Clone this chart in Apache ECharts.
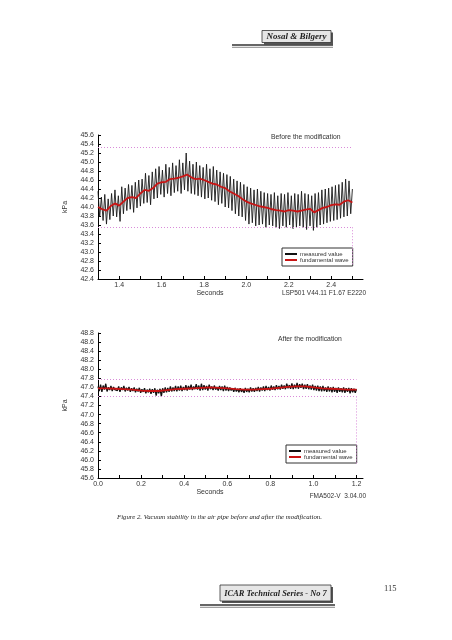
<!DOCTYPE html>
<html>
<head>
<meta charset="utf-8">
<script src="https://cdn.jsdelivr.net/npm/echarts@6/dist/echarts.min.js"></script>
<style>
html,body{margin:0;padding:0;background:#fff;}
#chart{width:452px;height:640px;}
</style>
</head>
<body>
<div id="chart"></div>
<script>
// ---------- DATA ----------
// Top chart ("Before the modification"): sampling start / step in seconds
const topT0 = 1.3, topDt = 0.008;
const topMeasured = [
44.35,43.78,44.22,43.70,44.28,43.62,44.18,43.72,44.30,43.80,
44.38,43.78,44.25,43.68,44.45,43.85,44.42,43.92,44.50,43.95,
44.48,43.88,44.55,43.98,44.60,44.02,44.62,44.08,44.75,44.10,
44.70,44.05,44.78,44.18,44.85,44.20,44.90,44.28,44.82,44.22,
44.95,44.30,44.88,44.25,44.98,44.32,44.92,44.35,45.05,44.30,
44.98,44.38,45.20,44.35,45.02,44.30,44.95,44.28,45.00,44.25,
44.92,44.22,44.88,44.18,44.95,44.20,44.85,44.15,44.90,44.12,
44.82,44.05,44.78,44.08,44.75,44.00,44.72,43.98,44.68,43.92,
44.62,43.85,44.58,43.80,44.55,43.78,44.50,43.70,44.45,43.62,
44.42,43.65,44.38,43.58,44.40,43.60,44.35,43.62,44.32,43.55,
44.30,43.60,44.28,43.58,44.32,43.55,44.25,43.52,44.30,43.58,
44.28,43.55,44.32,43.60,44.25,43.52,44.30,43.55,44.28,43.58,
44.35,43.55,44.30,43.50,44.28,43.58,44.25,43.48,44.30,43.55,
44.32,43.60,44.38,43.62,44.40,43.65,44.42,43.68,44.45,43.70,
44.48,43.72,44.50,43.75,44.55,43.78,44.62,43.80,44.58,43.85,
44.40
];
const topFundT0 = 1.3, topFundDt = 0.02;
const topFundamental = [
44.00,43.95,43.92,44.02,44.08,44.03,44.12,44.20,44.22,44.20,
44.30,44.38,44.36,44.42,44.52,44.55,44.56,44.62,44.63,44.65,
44.68,44.72,44.66,44.62,44.63,44.60,44.56,44.52,44.50,44.45,
44.42,44.35,44.30,44.25,44.18,44.12,44.08,44.05,44.02,44.00,
43.98,43.95,43.93,43.92,43.90,43.93,43.92,43.90,43.92,43.94,
43.96,43.88,43.93,43.98,44.00,44.04,44.06,44.05,44.12,44.15,
44.10
];
const topBand = [45.33, 43.55];          // dotted limit lines (kPa)
const topBandEnd = 2.5;                   // right end of limit lines (s)
const topVert = [[45.66, 45.33], [43.55, 42.70]];
const topXLabels = [1.4, 1.6, 1.8, 2.0, 2.2, 2.4];
const topXTicks = [1.4,1.5,1.6,1.7,1.8,1.9,2.0,2.1,2.2,2.3,2.4,2.5];

// Bottom chart ("After the modification")
const botT0 = 0.0, botDt = 0.006;
const botMeasured = [
47.62,47.52,47.66,47.50,47.64,47.55,47.68,47.51,47.60,47.54,47.63,47.52,47.61,47.55,47.59,47.53,47.62,47.50,47.60,47.54,47.63,
47.51,47.59,47.53,47.61,47.50,47.58,47.52,47.60,47.49,47.57,47.51,47.59,47.48,47.56,47.50,47.58,47.47,47.55,47.49,47.57,
47.46,47.56,47.48,47.58,47.42,47.55,47.47,47.57,47.40,47.58,47.48,47.60,47.49,47.59,47.50,47.62,47.51,47.60,47.52,47.63,
47.51,47.62,47.53,47.64,47.52,47.61,47.54,47.65,47.53,47.63,47.55,47.66,47.54,47.62,47.56,47.67,47.55,47.64,47.53,47.68,
47.54,47.65,47.55,47.63,47.53,47.66,47.56,47.62,47.54,47.64,47.55,47.61,47.53,47.63,47.54,47.62,47.52,47.64,47.53,47.61,
47.52,47.60,47.53,47.58,47.50,47.59,47.51,47.57,47.49,47.58,47.50,47.56,47.48,47.59,47.50,47.57,47.49,47.60,47.51,47.58,
47.50,47.59,47.52,47.61,47.51,47.60,47.53,47.62,47.52,47.63,47.54,47.61,47.53,47.64,47.55,47.62,47.54,47.65,47.56,47.63,
47.55,47.66,47.57,47.64,47.56,47.68,47.58,47.65,47.57,47.69,47.56,47.66,47.58,47.70,47.57,47.67,47.59,47.68,47.56,47.66,
47.57,47.67,47.56,47.64,47.55,47.66,47.54,47.63,47.53,47.64,47.52,47.62,47.51,47.63,47.52,47.60,47.50,47.62,47.51,47.60,
47.49,47.61,47.50,47.59,47.48,47.60,47.50,47.58,47.49,47.60,47.48,47.58,47.50,47.59,47.47,47.58,47.49,47.57,47.48,47.56
];
const botFundT0 = 0.0, botFundDt = 0.04;
const botFundamental = [
47.58,47.58,47.57,47.56,47.55,47.53,47.52,47.52,47.54,47.56,
47.57,47.58,47.59,47.60,47.59,47.58,47.56,47.55,47.55,47.56,
47.57,47.59,47.61,47.62,47.62,47.60,47.58,47.57,47.56,47.55,
47.55
];
const botBand = [47.78, 47.40];
const botBandEnd = 1.2;
const botVert = [[48.90, 47.78], [47.40, 45.90]];
const botXLabels = [0.0, 0.2, 0.4, 0.6, 0.8, 1.0, 1.2];
const botXTicks = [0.0,0.1,0.2,0.3,0.4,0.5,0.6,0.7,0.8,0.9,1.0,1.1,1.2];

const seriesNames = ['measured value', 'fundamental wave'];

// ---------- BUILD ----------
function pairs(t0, dt, arr) { return arr.map((v, i) => [+(t0 + i * dt).toFixed(4), v]); }

const FONT = '"Liberation Sans", Arial, sans-serif';
const SERIF = '"Liberation Serif", "Times New Roman", serif';
const dotStyle = { color: '#d98ad9', type: [1, 2], width: 1 };

function bandLines(t0, tEnd, band, vert) {
  const d = band.map(y => [{ coord: [t0, y] }, { coord: [tEnd, y] }]);
  vert.forEach(v => d.push([{ coord: [tEnd, v[0]] }, { coord: [tEnd, v[1]] }]));
  return d;
}

function xAxis(idx, min, max, labels, ticks) {
  return {
    type: 'value', gridIndex: idx, min: min, max: max,
    name: 'Seconds', nameLocation: 'middle', nameGap: 11,
    nameTextStyle: { fontFamily: FONT, fontSize: 7, color: '#333', padding: [0, 41, 0, 0] },
    axisLine: { show: true, lineStyle: { color: '#000', width: 1 } },
    axisTick: { show: true, inside: true, length: 3, customValues: ticks, lineStyle: { color: '#000' } },
    axisLabel: { show: true, customValues: labels, margin: 3, fontFamily: FONT, fontSize: 7, color: '#333',
      formatter: v => v.toFixed(1) },
    splitLine: { show: false }
  };
}
function yAxis(idx, min, max) {
  return {
    type: 'value', gridIndex: idx, min: min, max: max, interval: 0.2,
    name: 'kPa', nameLocation: 'middle', nameGap: 29, nameRotate: 90,
    nameTextStyle: { fontFamily: FONT, fontSize: 7, color: '#333' },
    axisLine: { show: true, lineStyle: { color: '#000', width: 1 } },
    axisTick: { show: true, inside: true, length: 3, lineStyle: { color: '#000' } },
    axisLabel: { margin: 4, fontFamily: FONT, fontSize: 7, color: '#333', formatter: v => v.toFixed(1) },
    splitLine: { show: false }
  };
}
function legend(left, top) {
  return {
    left: left, top: top, orient: 'vertical', icon: 'rect', itemWidth: 12, itemHeight: 2,
    itemGap: 0, padding: [3, 4, 3, 3], borderColor: '#333', borderWidth: 1, backgroundColor: '#fff',
    selectedMode: false, data: seriesNames,
    textStyle: { fontFamily: FONT, fontSize: 6, color: '#333', padding: [0, 0, 0, -2] }
  };
}
function txt(x, y, s, size, align, extra) {
  return { type: 'text', x: x, y: y, silent: true, style: Object.assign({
    text: s, fontFamily: FONT, fontSize: size, fill: '#333', align: align || 'left', verticalAlign: 'middle' }, extra || {}) };
}

const option = {
  animation: false,
  backgroundColor: '#fff',
  grid: [
    { left: 98, top: 135, width: 265, height: 144 },
    { left: 98, top: 333, width: 265, height: 145 }
  ],
  xAxis: [ xAxis(0, 1.3, 2.55, topXLabels, topXTicks), xAxis(1, 0, 1.23, botXLabels, botXTicks) ],
  yAxis: [ yAxis(0, 42.4, 45.6), yAxis(1, 45.6, 48.8) ],
  legend: [ legend(282, 248), legend(286, 445) ],
  series: [
    { name: seriesNames[0], type: 'line', xAxisIndex: 0, yAxisIndex: 0, data: pairs(topT0, topDt, topMeasured),
      showSymbol: false, symbol: 'none', color: '#111', lineStyle: { color: '#1a1a1a', width: 0.9 }, z: 2 },
    { name: seriesNames[1], type: 'line', xAxisIndex: 0, yAxisIndex: 0, data: pairs(topFundT0, topFundDt, topFundamental),
      showSymbol: false, symbol: 'none', color: '#c81414', lineStyle: { color: '#c81414', width: 1.8 }, z: 3, clip: false,
      markLine: { silent: true, symbol: ['none', 'none'], label: { show: false }, lineStyle: dotStyle,
        data: bandLines(topT0, topBandEnd, topBand, topVert) } },
    { name: seriesNames[0], type: 'line', xAxisIndex: 1, yAxisIndex: 1, data: pairs(botT0, botDt, botMeasured),
      showSymbol: false, symbol: 'none', color: '#111', lineStyle: { color: '#111', width: 1.3 }, z: 2 },
    { name: seriesNames[1], type: 'line', xAxisIndex: 1, yAxisIndex: 1, data: pairs(botFundT0, botFundDt, botFundamental),
      showSymbol: false, symbol: 'none', color: '#c81414', lineStyle: { color: '#c81414', width: 1.8 }, z: 3, clip: false,
      markLine: { silent: true, symbol: ['none', 'none'], label: { show: false }, lineStyle: dotStyle,
        data: bandLines(botT0, botBandEnd, botBand, botVert) } }
  ],
  graphic: [
    // header
    { type: 'rect', shape: { x: 264, y: 32.5, width: 69, height: 12 }, style: { fill: '#555' }, silent: true },
    { type: 'rect', shape: { x: 262, y: 30.5, width: 69, height: 12 }, style: { fill: '#e6e6e6', stroke: '#333', lineWidth: 0.8 }, silent: true },
    txt(296.5, 37, 'Nosal & Bilgery', 9, 'center', { fontFamily: SERIF, fontStyle: 'italic', fontWeight: 'bold', fill: '#222' }),
    { type: 'line', shape: { x1: 232, y1: 45, x2: 333, y2: 45 }, style: { stroke: '#333', lineWidth: 1.5 }, silent: true },
    { type: 'line', shape: { x1: 232, y1: 47.3, x2: 333, y2: 47.3 }, style: { stroke: '#555', lineWidth: 0.7 }, silent: true },
    // chart annotations
    txt(271, 137.5, 'Before the modification', 6.8),
    txt(366, 293.5, 'LSP501 V44.11 F1.67 E2220', 6.5, 'right'),
    txt(278, 339.5, 'After the modification', 6.8),
    txt(366, 496.5, 'FMA502-V  3.04.00', 6.5, 'right'),
    // caption
    txt(117, 517.5, 'Figure 2. Vacuum stability in the air pipe before and after the modification.', 6.8, 'left',
      { fontFamily: SERIF, fontStyle: 'italic', fill: '#222' }),
    // footer
    { type: 'rect', shape: { x: 222, y: 587, width: 111, height: 16 }, style: { fill: '#555' }, silent: true },
    { type: 'rect', shape: { x: 220, y: 585, width: 111, height: 16 }, style: { fill: '#e6e6e6', stroke: '#333', lineWidth: 0.8 }, silent: true },
    txt(275.5, 593.5, 'ICAR Technical Series - No 7', 8.4, 'center', { fontFamily: SERIF, fontStyle: 'italic', fontWeight: 'bold', fill: '#222' }),
    { type: 'line', shape: { x1: 200, y1: 605, x2: 335, y2: 605 }, style: { stroke: '#333', lineWidth: 1.5 }, silent: true },
    { type: 'line', shape: { x1: 200, y1: 607.3, x2: 335, y2: 607.3 }, style: { stroke: '#555', lineWidth: 0.7 }, silent: true },
    txt(384, 588.5, '115', 8.5, 'left', { fontFamily: SERIF, fill: '#333' })
  ]
};

const chart = echarts.init(document.getElementById('chart'), null, { renderer: 'canvas' });
chart.setOption(option);
</script>
</body>
</html>
